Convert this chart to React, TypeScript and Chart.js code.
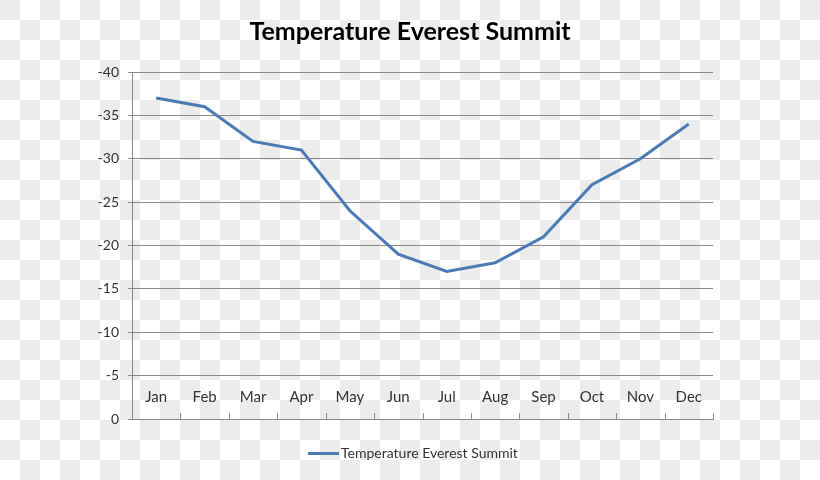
import React, { useEffect, useRef } from "react";
import { Chart, registerables } from "chart.js";

Chart.register(...registerables);

const chartTitle = "Temperature Everest Summit";
const seriesLabel = "Temperature Everest Summit";
const months = ["Jan", "Feb", "Mar", "Apr", "May", "Jun", "Jul", "Aug", "Sep", "Oct", "Nov", "Dec"];
const temps = [-37, -36, -32, -31, -24, -19, -17, -18, -21, -27, -30, -34];
const yMin = -40;
const yMax = 0;
const yStep = 5;
const monthLabelLevel = -2.5;

const GRID = "#8a8a8a";
const LINE = "#4a7bb5";
const TEXT = "#333333";

const overlay = {
  id: "excelOverlay",
  afterDraw(chart: any) {
    const ctx = chart.ctx as CanvasRenderingContext2D;
    const xs = chart.scales.x;
    const ys = chart.scales.y;
    const area = chart.chartArea;
    ctx.save();
    // category boundary tick marks (pointing up into plot)
    ctx.strokeStyle = GRID;
    ctx.lineWidth = 1;
    ctx.beginPath();
    for (let i = 1; i <= months.length; i++) {
      const px = Math.round(xs.getPixelForValue(i - 0.5)) + 0.5;
      ctx.moveTo(px, area.bottom);
      ctx.lineTo(px, area.bottom - 6);
    }
    ctx.stroke();
    // month labels inside plot
    ctx.font = "15px Lato";
    ctx.fillStyle = TEXT;
    ctx.textAlign = "center";
    ctx.textBaseline = "middle";
    const ly = ys.getPixelForValue(monthLabelLevel);
    months.forEach((m, i) => ctx.fillText(m, xs.getPixelForValue(i), ly));
    // title
    ctx.font = "bold 25px Lato";
    ctx.fillStyle = "#000";
    ctx.textBaseline = "alphabetic";
    ctx.fillText(chartTitle, 410, 40);
    // legend
    const ds = chart.data.datasets[0];
    ctx.strokeStyle = ds.borderColor;
    ctx.lineWidth = 3;
    ctx.beginPath();
    ctx.moveTo(308, 453.5);
    ctx.lineTo(339, 453.5);
    ctx.stroke();
    ctx.font = "14px Lato";
    ctx.fillStyle = TEXT;
    ctx.textAlign = "left";
    ctx.textBaseline = "alphabetic";
    ctx.fillText(ds.label, 341, 458);
    ctx.restore();
  },
};

export default function App() {
  const ref = useRef<HTMLCanvasElement | null>(null);
  useEffect(() => {
    if (!ref.current) return;
    const chart = new Chart(ref.current, {
      type: "line",
      data: {
        labels: months,
        datasets: [
          {
            label: seriesLabel,
            data: temps,
            borderColor: LINE,
            backgroundColor: LINE,
            borderWidth: 3,
            pointRadius: 0,
            tension: 0,
            fill: false,
          },
        ],
      },
      options: {
        responsive: false,
        animation: false,
        layout: { padding: { left: 0, right: 107, top: 72, bottom: 61 } },
        plugins: {
          legend: { display: false },
          title: { display: false },
          tooltip: { enabled: false },
        },
        scales: {
          x: {
            type: "category",
            offset: true,
            grid: { display: false },
            ticks: { display: false },
            border: { display: true, color: GRID, width: 1 },
            afterFit: (s: any) => {
              s.height = 0;
            },
          },
          y: {
            type: "linear",
            reverse: true,
            min: yMin,
            max: yMax,
            grid: { color: GRID, tickLength: 4, lineWidth: 1 },
            border: { display: true, color: GRID, width: 1 },
            ticks: {
              stepSize: yStep,
              padding: 9,
              color: TEXT,
              font: { family: "Lato", size: 14 },
            },
            afterFit: (s: any) => {
              s.width = 132;
            },
          },
        },
      },
      plugins: [overlay],
    });
    return () => chart.destroy();
  }, []);
  return (
    <div
      style={{
        position: "fixed",
        left: 0,
        top: 0,
        width: 820,
        height: 480,
        backgroundColor: "#fff",
        backgroundImage:
          "conic-gradient(#ffffff 0 25%, #ececec 0 50%, #ffffff 0 75%, #ececec 0)",
        backgroundSize: "40px 40px",
      }}
    >
      <canvas ref={ref} width={820} height={480} style={{ display: "block" }} />
    </div>
  );
}
